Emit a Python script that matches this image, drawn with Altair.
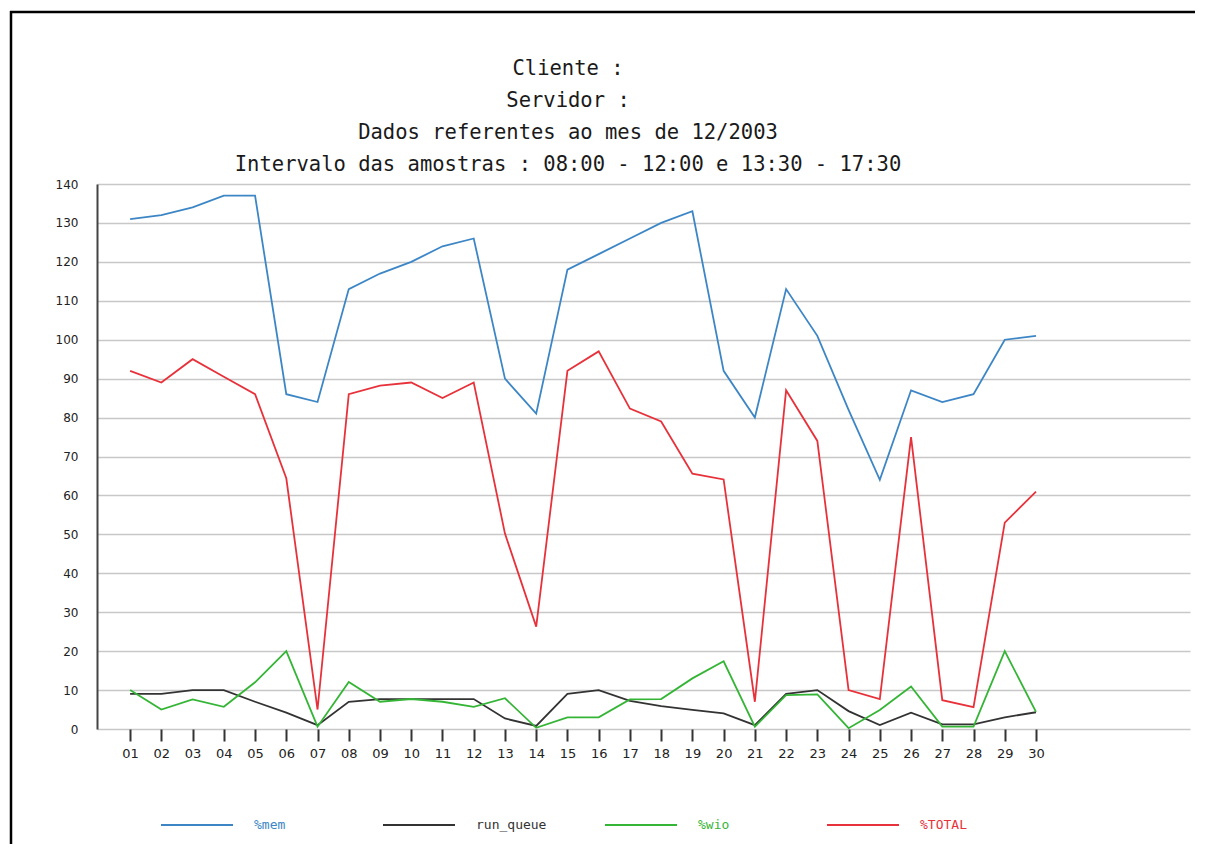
import altair as alt
import pandas as pd

# ---- data ----
dias = [1, 2, 3, 4, 5, 6, 7, 8, 9, 10, 11, 12, 13, 14, 15,
        16, 17, 18, 19, 20, 21, 22, 23, 24, 25, 26, 27, 28, 29, 30]
mem = [131, 132, 134, 137, 137, 86, 84, 113, 117, 120, 124, 126, 90, 81, 118,
       122, 126, 130, 133, 92, 80, 113, 101, 82, 64, 87, 84, 86, 100, 101]
run_queue = [9, 9, 10, 10, 7, 4.2, 1, 7, 7.7, 7.7, 7.7, 7.7, 2.7, 0.8, 9,
             10, 7.2, 5.9, 4.9, 4, 1, 9, 10, 4.6, 1, 4.2, 1.2, 1.2, 3, 4.3]
wio = [10, 5, 7.6, 5.7, 12, 20, 0.6, 12.1, 7, 7.7, 7, 5.7, 7.9, 0.3, 3,
       3, 7.6, 7.7, 13, 17.4, 0.6, 8.7, 8.9, 0.2, 4.9, 10.9, 0.6, 0.6, 20, 4.4]
total = [92, 89, 95, 90.5, 86, 64.4, 5, 86, 88.2, 89, 85, 89, 50.2, 26.3, 92,
         97, 82.3, 79, 65.6, 64.1, 7, 87, 74, 10, 7.7, 75, 7.4, 5.6, 53, 61]

series_names = ["%mem", "run_queue", "%wio", "%TOTAL"]
series_colors = ["#3d86c6", "#333333", "#35b536", "#e8323b"]
y_ticks = [0, 10, 20, 30, 40, 50, 60, 70, 80, 90, 100, 110, 120, 130, 140]

title_lines = [
    "Cliente :" + "\u00a0" * 7,
    "Servidor :" + "\u00a0" * 5,
    "Dados referentes ao mes de 12/2003",
    "Intervalo das amostras : 08:00 - 12:00 e 13:30 - 17:30",
]

rows = []
for name, vals in zip(series_names, [mem, run_queue, wio, total]):
    for d, v in zip(dias, vals):
        rows.append({"dia": d, "valor": v, "serie": name})
df = pd.DataFrame(rows)

lines = alt.Chart(df).mark_line(strokeWidth=1.8).encode(
    x=alt.X(
        "dia:Q",
        scale=alt.Scale(domain=[-0.06, 34.93], nice=False, zero=False),
        axis=alt.Axis(
            values=dias,
            labelExpr="datum.value < 10 ? '0' + datum.value : '' + datum.value",
            title=None, grid=False, domain=False,
            ticks=True, tickSize=12, tickWidth=2, tickColor="#333333",
            labelPadding=6, labelFont="DejaVu Sans", labelFontSize=13,
            labelColor="#222222", labelFlush=False,
        ),
    ),
    y=alt.Y(
        "valor:Q",
        scale=alt.Scale(domain=[0, 140], nice=False),
        axis=alt.Axis(
            values=y_ticks, title=None, grid=True,
            gridColor="#c8c8c8", gridWidth=1.6,
            domain=True, domainColor="#444444", domainWidth=2,
            ticks=False, labelPadding=19,
            labelFont="DejaVu Sans", labelFontSize=12, labelColor="#222222",
        ),
    ),
    color=alt.Color(
        "serie:N",
        scale=alt.Scale(domain=series_names, range=series_colors),
        sort=series_names,
        legend=alt.Legend(
            title=None, orient="none", legendX=63, legendY=604,
            direction="horizontal", columns=4, gridAlign="all",
            symbolType="stroke", symbolSize=5184, symbolStrokeWidth=1.8,
            labelOffset=20, columnPadding=54, padding=0,
            labelFont="DejaVu Sans Mono", labelFontSize=13,
            labelColor={"expr": "scale('color', datum.value)"},
        ),
    ),
)

frame_df = pd.DataFrame({"k": [0]})
left_edge = alt.Chart(frame_df).mark_rule(color="black", strokeWidth=2.5).encode(
    x=alt.value(-86), y=alt.value(-173), y2=alt.value(700)
)
top_edge = alt.Chart(frame_df).mark_rule(color="black", strokeWidth=2.5).encode(
    x=alt.value(-87), x2=alt.value(1100), y=alt.value(-172)
)

title_y = [-109, -77, -45, -13]
title_layers = [
    alt.Chart(frame_df).mark_text(
        text=t, font="DejaVu Sans Mono", fontSize=20.5, color="#1a1a1a",
        align="center", baseline="alphabetic",
    ).encode(x=alt.value(471), y=alt.value(yy))
    for t, yy in zip(title_lines, title_y)
]

chart = alt.layer(lines, left_edge, top_edge, *title_layers).properties(
    width=1093,
    height=545,
    padding={"left": 89, "top": 176, "right": 5, "bottom": 115},
    autosize=alt.AutoSizeParams(type="none"),
).configure(background="white").configure_view(stroke=None)

chart.save("out.html", embed_options={"renderer": "svg", "actions": False})
